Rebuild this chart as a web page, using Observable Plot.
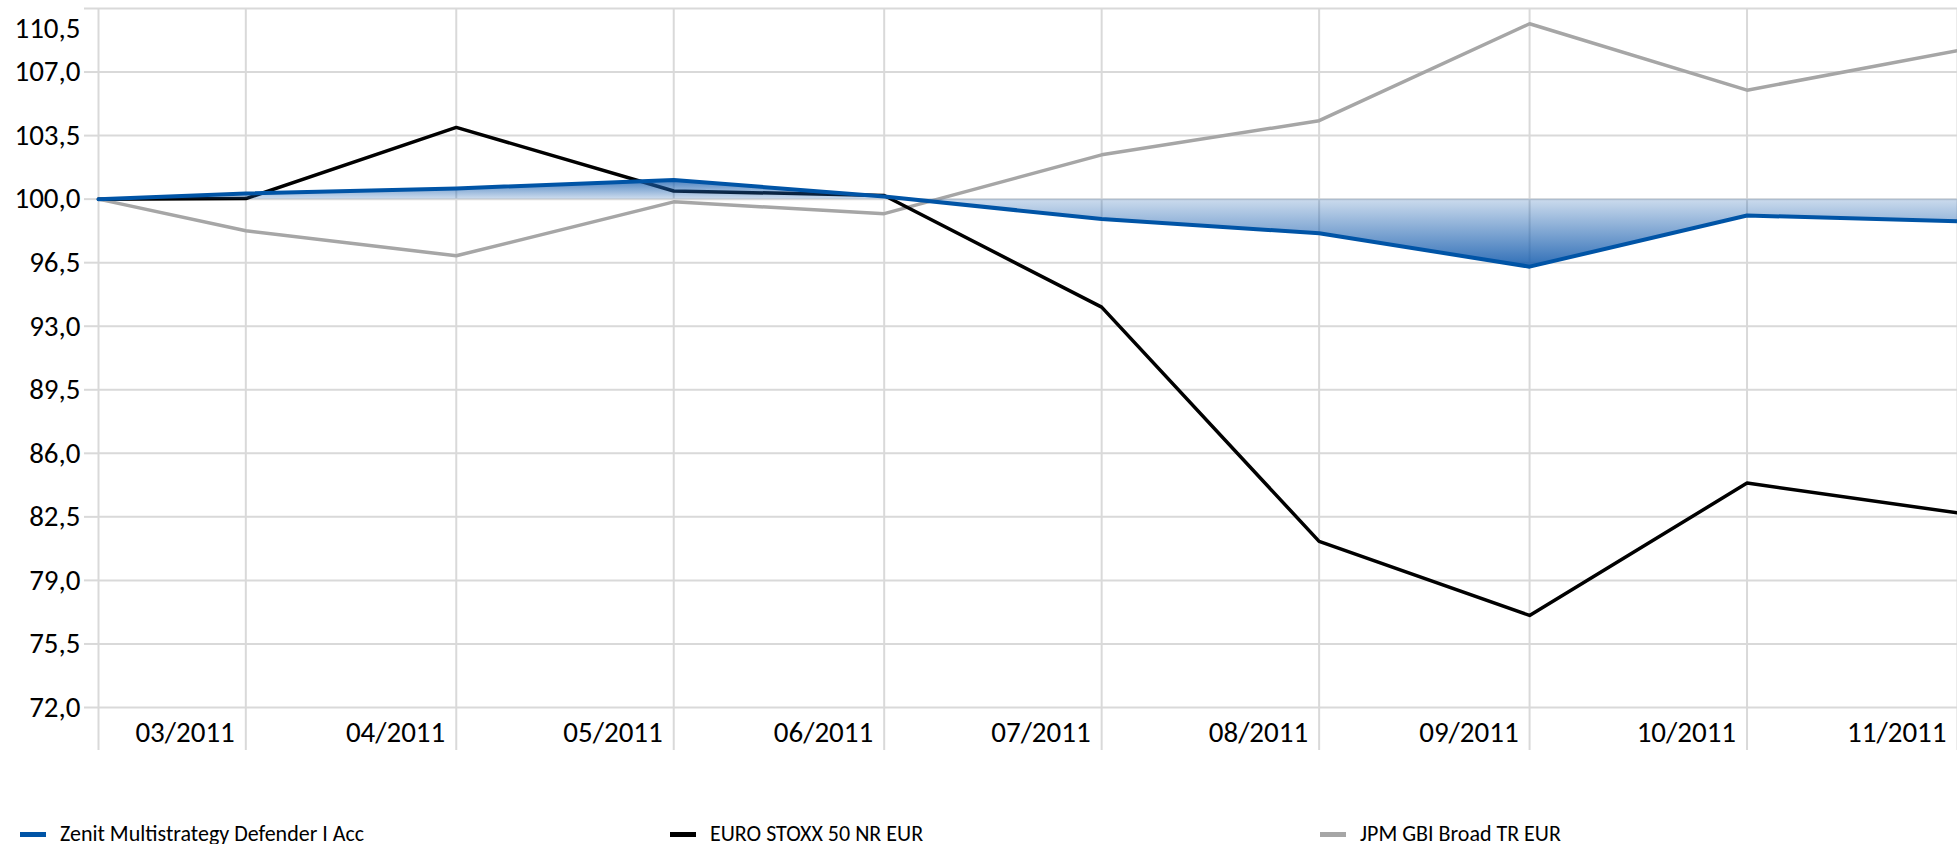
<!DOCTYPE html>
<html><head><meta charset="utf-8">
<script src="https://cdn.jsdelivr.net/npm/d3@7"></script>
<script src="https://cdn.jsdelivr.net/npm/@observablehq/plot@0.6"></script>
<style>
html,body{margin:0;padding:0;background:#fff;overflow:hidden;}
body{width:1957px;height:844px;font-family:Carlito, Calibri, Lato, sans-serif;}
#legend{position:relative;height:84px;width:1957px;font-size:22px;color:#000;}
.item{position:absolute;top:63px;display:flex;align-items:center;white-space:nowrap;line-height:22px;height:22px;}
.sw{width:26px;height:5px;margin-right:14px;}
</style></head><body>
<div id="chart"></div>
<div id="legend"></div>
<script>
// ---- data ----
const dates = ["2011-03-10","2011-03-31","2011-04-30","2011-05-31","2011-06-30","2011-07-31","2011-08-31","2011-09-30","2011-10-31","2011-11-30"];
const zenit = [100, 100.31, 100.59, 101.05, 100.15, 98.90, 98.12, 96.28, 99.10, 98.78];
const euro  = [100, 100.03, 103.95, 100.45, 100.20, 94.05, 81.15, 77.07, 84.36, 82.72];
const jpm   = [100, 98.26, 96.88, 99.85, 99.20, 102.44, 104.32, 109.66, 106.00, 108.18];
const seriesNames = ["Zenit Multistrategy Defender I Acc", "EURO STOXX 50 NR EUR", "JPM GBI Broad TR EUR"];
const seriesColors = ["#0054a6", "#000000", "#a6a6a6"];
const yTicks = [72, 75.5, 79, 82.5, 86, 89.5, 93, 96.5, 100, 103.5, 107, 110.5];

// ---- build ----
const parse = d3.utcParse("%Y-%m-%d");
const xTicks = dates.map(parse);
const rows = dates.map((d, i) => ({date: parse(d), zenit: zenit[i], euro: euro[i], jpm: jpm[i]}));
const fmtY = d => d3.format(".1f")(d).replace(".", ",");
const grid = "#d9d9d9";

const chart = Plot.plot({
  width: 1957, height: 760,
  marginLeft: 98, marginRight: 0, marginTop: 8, marginBottom: 53,
  style: {fontFamily: "Carlito, Calibri, Lato, sans-serif", fontSize: "29px", color: "#000", background: "#fff", overflow: "visible"},
  x: {type: "utc", domain: [xTicks[0], xTicks[xTicks.length - 1]]},
  y: {domain: [72, 110.5]},
  marks: [
    Plot.gridY(yTicks, {stroke: grid, strokeOpacity: 1, strokeWidth: 2}),
    Plot.gridX(xTicks, {stroke: grid, strokeOpacity: 1, strokeWidth: 2}),
    Plot.axisY(yTicks, {tickSize: 14, tickPadding: 4, stroke: grid, strokeWidth: 2, tickFormat: d => d === 110.5 ? "" : fmtY(d)}),
    Plot.axisY([110.5], {tickSize: 0, tickPadding: 18, dy: 20, tickFormat: fmtY}),
    Plot.axisX(xTicks, {tickSize: 43, stroke: grid, strokeWidth: 2, tickFormat: () => ""}),
    Plot.axisX(xTicks.slice(1), {tickSize: 0, tickPadding: 14, textAnchor: "end", dx: -11, tickFormat: d3.utcFormat("%m/%Y")}),
    Plot.line(rows, {x: "date", y: "jpm", stroke: seriesColors[2], strokeWidth: 3.5}),
    Plot.line(rows, {x: "date", y: "euro", stroke: seriesColors[1], strokeWidth: 3.5}),
    Plot.areaY(rows, {x: "date", y1: 100, y2: "zenit", fill: "url(#zgrad)"}),
    Plot.line(rows, {x: "date", y: "zenit", stroke: seriesColors[0], strokeWidth: 4})
  ]
});

// gradient for the area, symmetric around the 100 baseline
const ys = chart.scale("y");
const yTop = ys.apply(d3.max(zenit)), y0 = ys.apply(100), yBot = ys.apply(d3.min(zenit));
const off = (y0 - yTop) / (yBot - yTop);
const defs = d3.select(chart).insert("defs", ":first-child");
const g = defs.append("linearGradient").attr("id", "zgrad").attr("gradientUnits", "userSpaceOnUse")
  .attr("x1", 0).attr("x2", 0).attr("y1", yTop).attr("y2", yBot);
g.append("stop").attr("offset", 0).attr("stop-color", "rgb(25,95,175)").attr("stop-opacity", 0.8);
g.append("stop").attr("offset", off).attr("stop-color", "rgb(25,95,175)").attr("stop-opacity", 0.22);
g.append("stop").attr("offset", 1).attr("stop-color", "rgb(25,95,175)").attr("stop-opacity", 0.9);

document.getElementById("chart").appendChild(chart);

// legend
const legendLeft = [20, 670, 1320];
const legend = d3.select("#legend");
seriesNames.forEach((name, i) => {
  const it = legend.append("div").attr("class", "item").style("left", legendLeft[i] + "px");
  it.append("div").attr("class", "sw").style("background", seriesColors[i]);
  it.append("span").text(name);
});
</script>
</body></html>
